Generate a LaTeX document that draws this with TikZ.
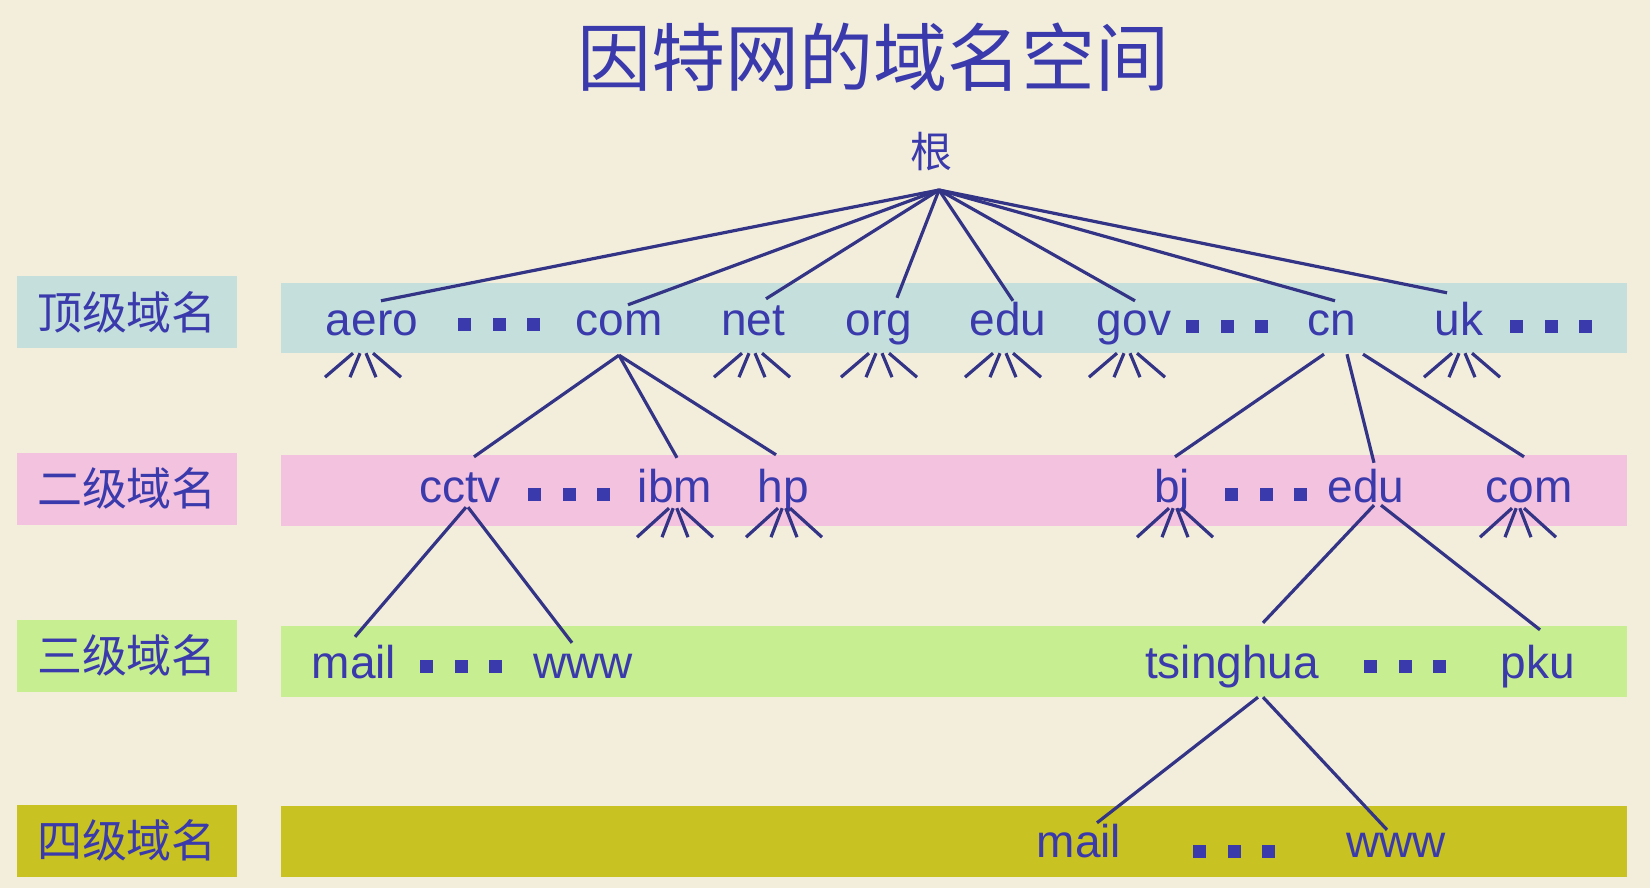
\documentclass[tikz,border=0pt]{standalone}
\usepackage{fontspec}
\setmainfont{Liberation Sans}
\newfontfamily\cjk{Noto Sans CJK SC}
\definecolor{bgc}{RGB}{243,238,220}
\definecolor{txt}{RGB}{58,58,172}
\definecolor{lncol}{RGB}{52,52,135}
\definecolor{bandA}{RGB}{197,224,220}
\definecolor{bandB}{RGB}{242,194,222}
\definecolor{bandC}{RGB}{200,238,146}
\definecolor{bandD}{RGB}{200,195,34}
\newcommand\tridots{\rule{13pt}{13pt}\hspace{21.5pt}\rule{13pt}{13pt}\hspace{21.5pt}\rule{13pt}{13pt}}
\newcommand\myfan[5]{%
  \foreach \t/\b in {-1/-38,-0.3/-13,0.3/13,1/38}{%
    \draw[ln] ([xshift={(#2+(\t)*#5)*1pt},yshift=#3pt]#1.south) -- ++({\b-(\t)*#5},#4);}}
\begin{document}
\begin{tikzpicture}[x=1pt,y=-1pt,
  lbl/.style={font=\fontsize{46}{50}\selectfont, text=txt, inner sep=0pt, text height=34pt, text depth=10pt, anchor=base},
  dotsn/.style={inner sep=0pt, anchor=base west, text=txt, font=\fontsize{46}{50}\selectfont},
  ln/.style={draw=lncol, line width=3.2pt},
  cat/.style={font=\cjk\fontsize{45}{50}\selectfont, text=txt, inner sep=0pt, minimum width=220pt, minimum height=72pt}]
\useasboundingbox (0,0) rectangle (1650,888);
\fill[bgc] (0,0) rectangle (1650,888);
% bands
\fill[bandA] (281,283) rectangle (1627,353);
\fill[bandB] (281,455) rectangle (1627,526);
\fill[bandC] (281,626) rectangle (1627,697);
\fill[bandD] (281,806) rectangle (1627,877);
% category boxes
\node[cat, fill=bandA] (c1) at (127,312) {顶级域名};
\node[cat, fill=bandB] (c2) at (127,488.5) {二级域名};
\node[cat, fill=bandC] (c3) at (127,655.5) {三级域名};
\node[cat, fill=bandD] (c4) at (127,840.5) {四级域名};
% title and root
\node[font=\cjk\fontsize{74}{80}\selectfont, text=txt, inner sep=0pt] (title) at (873,57) {因特网的域名空间};
\node[font=\cjk\fontsize{42}{46}\selectfont, text=txt, inner sep=0pt] (root) at (931,152) {根};
\coordinate (apex) at (939,190);
% top level
\node[lbl] (aero) at (372,335) {aero};
\node[lbl] (com) at (619,335) {com};
\node[lbl] (net) at (753,335) {net};
\node[lbl] (org) at (879,335) {org};
\node[lbl] (edu) at (1008,335) {edu};
\node[lbl] (gov) at (1134,335) {gov};
\node[lbl] (cn) at (1332,335) {cn};
\node[lbl] (uk) at (1459,335) {uk};
\node[dotsn] (d1) at (458,331) {\tridots};
\node[dotsn] (d2) at (1186,333) {\tridots};
\node[dotsn] (d3) at (1510,333) {\tridots};
% second level
\node[lbl] (cctv) at (460,502) {cctv};
\node[lbl] (ibm) at (675,502) {ibm};
\node[lbl] (hp) at (783,502) {hp};
\node[lbl] (bj) at (1172,502) {bj};
\node[lbl] (edu2) at (1366,502) {edu};
\node[lbl] (com2) at (1529,502) {com};
\node[dotsn] (d4) at (528,501) {\tridots};
\node[dotsn] (d5) at (1225,501) {\tridots};
% third level
\node[lbl] (mail3) at (354,678) {mail};
\node[lbl] (www3) at (583,678) {www};
\node[lbl] (tsing) at (1232,678) {tsinghua};
\node[lbl] (pku) at (1538,678) {pku};
\node[dotsn] (d6) at (420,673) {\tridots};
\node[dotsn] (d7) at (1364,673) {\tridots};
% fourth level
\node[lbl] (mail4) at (1079,857) {mail};
\node[lbl] (www4) at (1396,857) {www};
\node[dotsn] (d8) at (1193,858) {\tridots};
% root connectors
\draw[ln] (apex) -- ([xshift=9pt]aero.north);
\draw[ln] (apex) -- ([xshift=9pt,yshift=-4pt]com.north);
\draw[ln] (apex) -- ([xshift=13pt,yshift=2pt]net.north);
\draw[ln] (apex) -- ([xshift=18pt,yshift=3pt]org.north);
\draw[ln] (apex) -- ([xshift=5pt]edu.north);
\draw[ln] (apex) -- ([xshift=1pt]gov.north);
\draw[ln] (apex) -- ([xshift=3pt]cn.north);
\draw[ln] (apex) -- ([xshift=-12pt,yshift=8pt]uk.north);
% com subtree
\draw[ln] ([yshift=-10pt]com.south) -- ([xshift=14pt,yshift=11pt]cctv.north);
\draw[ln] ([yshift=-10pt]com.south) -- ([xshift=2pt,yshift=10pt]ibm.north);
\draw[ln] ([yshift=-10pt]com.south) -- ([xshift=-7pt,yshift=13pt]hp.north);
% cn subtree
\draw[ln] ([xshift=-8pt,yshift=-9pt]cn.south) -- ([xshift=3pt,yshift=11pt]bj.north);
\draw[ln] ([xshift=15pt,yshift=-9pt]cn.south) -- ([xshift=8pt,yshift=5pt]edu2.north);
\draw[ln] ([xshift=31pt,yshift=-9pt]cn.south) -- ([xshift=-5pt,yshift=11pt]com2.north);
% cctv subtree
\draw[ln] ([xshift=6pt,yshift=5pt]cctv.south) -- ([xshift=1pt,yshift=7pt]mail3.north);
\draw[ln] ([xshift=8pt,yshift=5pt]cctv.south) -- ([xshift=-11pt,yshift=1pt]www3.north);
% edu subtree
\draw[ln] ([xshift=8pt,yshift=7pt]edu2.south) -- ([xshift=31pt,yshift=21pt]tsing.north);
\draw[ln] ([xshift=15pt,yshift=7pt]edu2.south) -- ([xshift=2pt,yshift=14pt]pku.north);
% tsinghua subtree
\draw[ln] ([xshift=26pt,yshift=-9pt]tsing.south) -- ([xshift=18pt]mail4.north);
\draw[ln] ([xshift=31pt,yshift=-9pt]tsing.south) -- ([xshift=-9pt,yshift=-7pt]www4.north);
% fans
\myfan{aero}{-9}{-8}{24}{10}
\myfan{net}{-1}{-8}{24}{10}
\myfan{org}{0}{-8}{24}{10}
\myfan{edu}{-5}{-8}{24}{10}
\myfan{gov}{-7}{-8}{24}{10}
\myfan{uk}{3}{-8}{24}{10}
\myfan{ibm}{0}{4}{29}{6}
\myfan{hp}{1}{4}{29}{6}
\myfan{bj}{3}{4}{29}{6}
\myfan{com2}{-11}{4}{29}{6}
\end{tikzpicture}
\end{document}
